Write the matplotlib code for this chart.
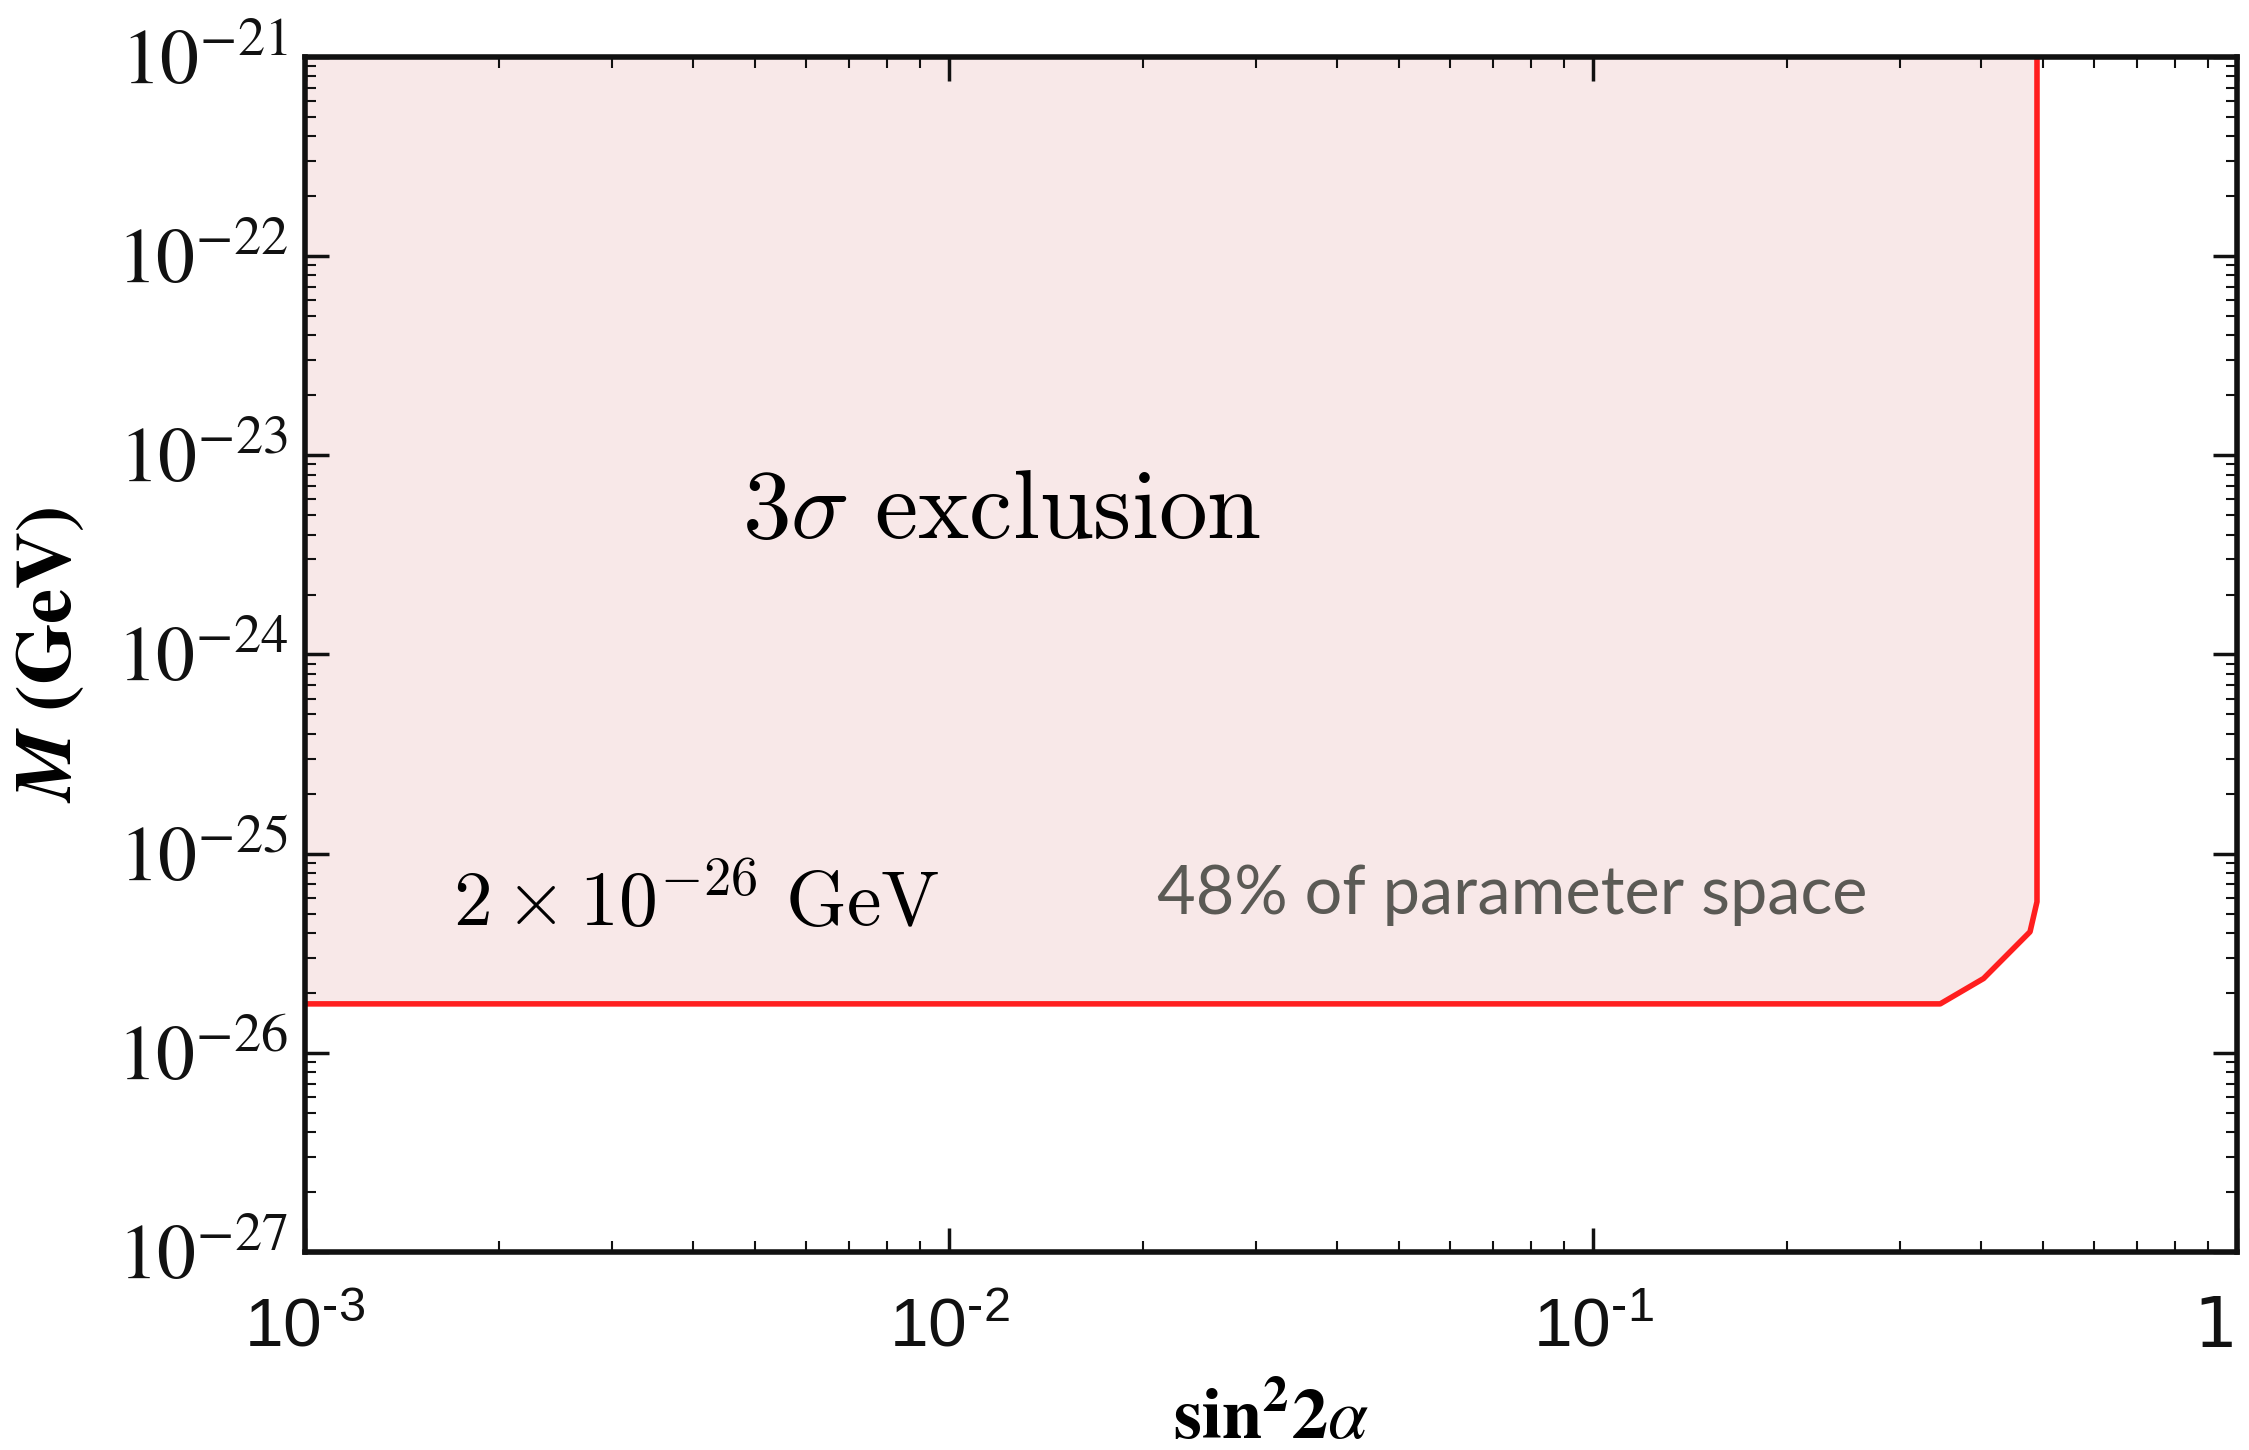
import matplotlib
matplotlib.use("Agg")
import matplotlib.pyplot as plt
from matplotlib.ticker import FixedLocator, NullFormatter, LogLocator
from matplotlib.transforms import ScaledTranslation

# ---- data
boundary_x = [1e-3, 0.346, 0.404, 0.477, 0.489, 0.489]
boundary_m = [1.76e-26, 1.76e-26, 2.36e-26, 4.05e-26, 5.73e-26, 1e-21]

xticks = [1e-3, 1e-2, 1e-1, 1]
xtick_labels = [r"$10^{\text{-}3}$", r"$10^{\text{-}2}$", r"$10^{\text{-}1}$", "1"]
yticks = [1e-27, 1e-26, 1e-25, 1e-24, 1e-23, 1e-22, 1e-21]
ytick_labels = [r"$10^{-27}$", r"$10^{-26}$", r"$10^{-25}$", r"$10^{-24}$",
                r"$10^{-23}$", r"$10^{-22}$", r"$10^{-21}$"]

plt.rcParams['mathtext.fontset'] = 'custom'
plt.rcParams['mathtext.rm'] = 'Liberation Sans'
plt.rcParams['mathtext.it'] = 'Liberation Sans:italic'
plt.rcParams['mathtext.bf'] = 'Liberation Sans:bold'

fig = plt.figure(figsize=(22.49, 14.5), dpi=100)
ax = fig.add_axes([0.1356, 0.1366, 0.8591, 0.8241])
ax.set_xscale('log')
ax.set_yscale('log')
ax.set_xlim(1e-3, 1)
ax.set_ylim(1e-27, 1e-21)

# excluded region
ax.fill(boundary_x + [1e-3], boundary_m + [1e-21], color='#F8E8E8', lw=0, zorder=1)
ax.plot(boundary_x, boundary_m, color='#FF1E1E', lw=4, zorder=2)

############ ticks
ax.xaxis.set_major_locator(FixedLocator(xticks))
ax.set_xticklabels(xtick_labels, fontsize=50)
ax.yaxis.set_major_locator(FixedLocator(yticks))
ax.set_yticklabels(ytick_labels, fontsize=56)
ax.xaxis.set_minor_locator(LogLocator(base=10, subs=range(2, 10)))
ax.yaxis.set_minor_locator(LogLocator(base=10, subs=range(2, 10)))
ax.xaxis.set_minor_formatter(NullFormatter())
ax.yaxis.set_minor_formatter(NullFormatter())
for lab in ax.get_yticklabels():
    lab.set_math_fontfamily('stix')
    lab.set_family('STIXGeneral')
# the "10" sits on the tick, exponent hangs to the right
shift = ScaledTranslation(0.12, 0, fig.dpi_scale_trans)
for lab in ax.get_xticklabels()[:-1]:
    lab.set_transform(lab.get_transform() + shift)
ax.get_xticklabels()[-1].set_ha('right')

ax.tick_params(which='both', direction='in', top=True, right=True, colors='#111111')
ax.tick_params(which='major', length=17, width=2.5)
ax.tick_params(which='minor', length=8, width=1.5)
ax.tick_params(axis='x', pad=30)
ax.tick_params(axis='y', pad=12)
for sp in ax.spines.values():
    sp.set_linewidth(4)
    sp.set_color('#111111')

############ labels
ax.set_ylabel(r"$\mathbfit{M}\ \mathbf{(GeV)}$", fontsize=57, math_fontfamily='stix')
ax.yaxis.set_label_coords(-0.113, 0.5)
ax.set_xlabel(r"$\mathbf{sin^2 2}\mathit{\alpha}$", fontsize=52, math_fontfamily='stix',
              va='center')
ax.xaxis.set_label_coords(0.5, -0.14)

############ annotations
ax.text(0.01205, 5.2e-24, r"$3\sigma\ \mathrm{exclusion}$", fontsize=70,
        math_fontfamily='cm', ha='center', va='center')
ax.text(0.00405, 5.6e-26, r"$2\times10^{-26}\ \mathrm{GeV}$", fontsize=56,
        math_fontfamily='cm', ha='center', va='center')
ax.text(0.0748, 6.2e-26, "48% of parameter space", fontsize=48, family='Lato',
        color='#5B5A55', ha='center', va='center')

fig.savefig("out.png", dpi=100)
